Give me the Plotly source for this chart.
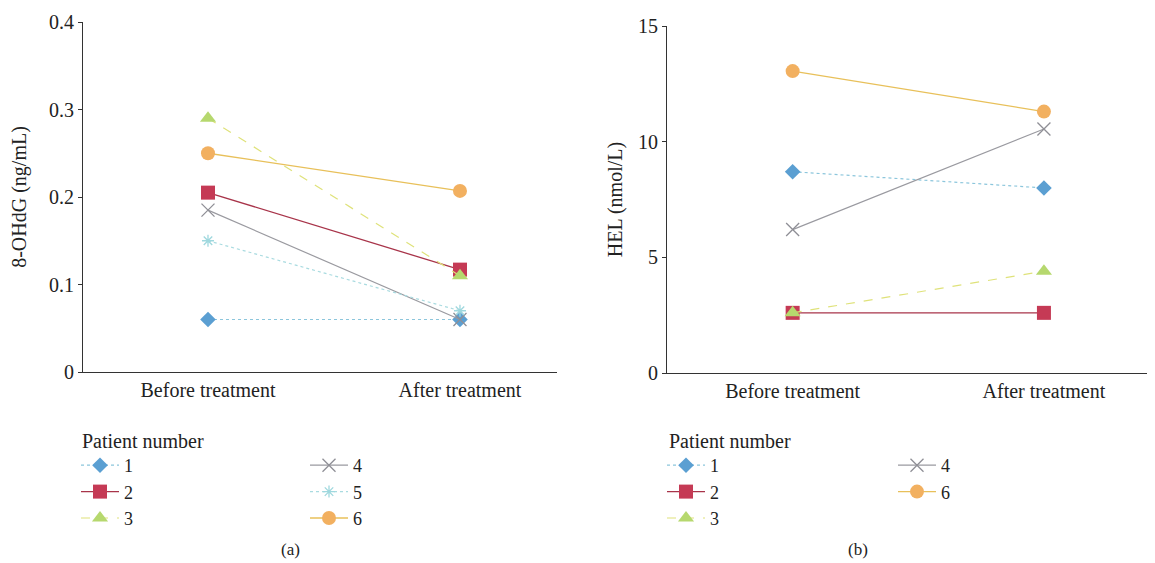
import plotly.graph_objects as go

categories = ["Before treatment", "After treatment"]
patients_a = ["1", "2", "3", "4", "5", "6"]
ohdg_before = [0.06, 0.205, 0.29, 0.185, 0.15, 0.25]
ohdg_after = [0.06, 0.117, 0.11, 0.06, 0.07, 0.207]

patients_b = ["1", "2", "3", "4", "6"]
hel_before = [8.7, 2.6, 2.6, 6.2, 13.05]
hel_after = [8.0, 2.6, 4.4, 10.55, 11.3]

ytick_a = [0, 0.1, 0.2, 0.3, 0.4]
ytick_a_text = ["0", "0.1", "0.2", "0.3", "0.4"]
ytick_b = [0, 5, 10, 15]

FONT = "Liberation Serif"
OFF = 8  # page body margin
W, H = 1155 - OFF, 563 - OFF


def px(x):
    return (x - OFF) / W


def py(y):
    return 1 - (y - OFF) / H


style = {
    "1": dict(mc="#5b9fd2", lc="#8cc6dc", sym="diamond", ms=12, dash="dot", lw=1.2),
    "2": dict(mc="#c53a55", lc="#a8344a", sym="square", ms=14, dash="solid", lw=1.3),
    "3": dict(mc="#b6d86e", lc="#dfe27a", sym="triangle-up", ms=14, dash="dash", lw=1.2),
    "4": dict(mc="#8f8f96", lc="#9a9aa0", sym="x-thin", ms=13, dash="solid", lw=1.2),
    "5": dict(mc="#9fd8de", lc="#a9dbe0", sym="asterisk", ms=10, dash="dot", lw=1.2),
    "6": dict(mc="#f2b060", lc="#e8c05a", sym="circle", ms=14, dash="solid", lw=1.3),
}

legend_of_a = {"1": "legend", "2": "legend", "3": "legend", "4": "legend2", "5": "legend2", "6": "legend2"}
legend_of_b = {"1": "legend3", "2": "legend3", "3": "legend3", "4": "legend4", "6": "legend4"}

fig = go.Figure()


def add(p, before, after, xa, ya, leg):
    s = style[p]
    marker = dict(symbol=s["sym"], size=s["ms"], color=s["mc"])
    if s["sym"] in ("x-thin", "asterisk"):
        marker["line"] = dict(color=s["mc"], width=1.3)
    fig.add_trace(go.Scatter(
        x=categories, y=[before, after], mode="lines+markers", name=p,
        line=dict(color=s["lc"], width=s["lw"], dash=s["dash"]),
        marker=marker, xaxis=xa, yaxis=ya, legend=leg,
    ))


for p, b, a in zip(patients_a, ohdg_before, ohdg_after):
    add(p, b, a, "x", "y", legend_of_a[p])
for p, b, a in zip(patients_b, hel_before, hel_after):
    add(p, b, a, "x2", "y2", legend_of_b[p])

axfont = dict(family=FONT, size=20, color="#222")
common_x = dict(type="category", showgrid=False, showline=True, linecolor="#333", linewidth=1,
                ticks="", tickfont=axfont, zeroline=False, automargin=False)
common_y = dict(showgrid=False, showline=True, linecolor="#333", linewidth=1, ticks="outside",
                ticklen=4, tickcolor="#333", tickfont=axfont, zeroline=False, automargin=False)

leg_common = dict(font=dict(family=FONT, size=18, color="#222"), bgcolor="rgba(0,0,0,0)",
                  xanchor="left", yanchor="top", itemwidth=38, tracegroupgap=0)
ly = py(447)

fig.update_layout(
    width=W, height=H, margin=dict(l=0, r=0, t=0, b=0, autoexpand=False),
    paper_bgcolor="white", plot_bgcolor="white",
    showlegend=True,
    xaxis=dict(common_x, domain=[px(83), px(557)], range=[-0.496, 1.385]),
    yaxis=dict(common_y, domain=[py(372), py(22)], range=[0, 0.4],
               tickvals=ytick_a, ticktext=ytick_a_text,
               title=dict(text="8-OHdG (ng/mL)", font=axfont, standoff=17)),
    xaxis2=dict(common_x, domain=[px(667), px(1152)], range=[-0.5, 1.43], anchor="y2"),
    yaxis2=dict(common_y, domain=[py(373), py(26)], range=[0, 15], anchor="x2",
                tickvals=ytick_b,
                title=dict(text="HEL (nmol/L)", font=axfont, standoff=10)),
    legend=dict(leg_common, x=px(76), y=ly),
    legend2=dict(leg_common, x=px(305), y=ly),
    legend3=dict(leg_common, x=px(662), y=ly),
    legend4=dict(leg_common, x=px(893), y=ly),
    annotations=[
        dict(text="Patient number", x=px(80), y=py(441), xref="paper", yref="paper",
             xanchor="left", yanchor="middle", showarrow=False, font=axfont),
        dict(text="Patient number", x=px(667), y=py(441), xref="paper", yref="paper",
             xanchor="left", yanchor="middle", showarrow=False, font=axfont),
        dict(text="(a)", x=px(290), y=py(549), xref="paper", yref="paper",
             xanchor="center", yanchor="middle", showarrow=False, font=dict(family=FONT, size=17, color="#222")),
        dict(text="(b)", x=px(858), y=py(549), xref="paper", yref="paper",
             xanchor="center", yanchor="middle", showarrow=False, font=dict(family=FONT, size=17, color="#222")),
    ],
)

fig.write_html("out.html")
